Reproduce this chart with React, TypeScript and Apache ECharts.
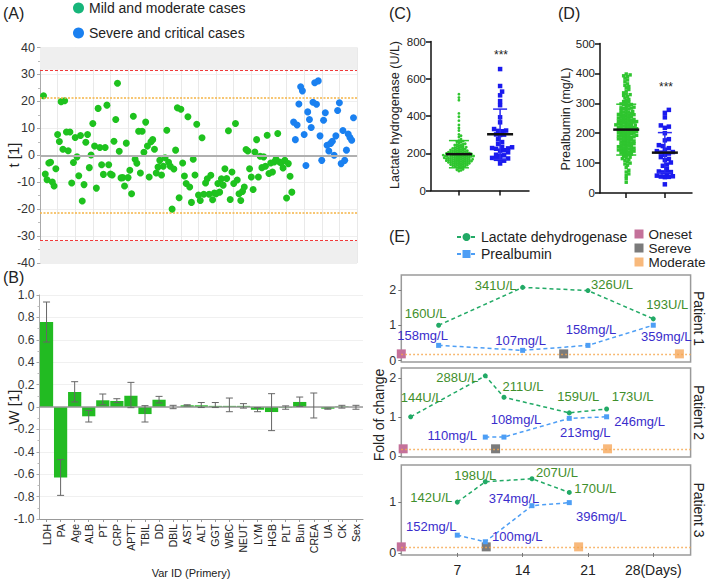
import React, { useEffect, useRef } from 'react';
import * as echarts from 'echarts';

const FONT = '"Liberation Sans", Arial, Helvetica, sans-serif';

// ---------------- (A) OPLS-DA scores t[1] ----------------
const tMild = [
  22.1, -7, -9.1, -2.9, -2.6, -9.9, -11.4, -5.0, 7.7, 5.1, 19.9, 2.2, 20.2, 8.6, 1.7, 8.6, -10.3, -2.7, 6.6, -0.6,
  -7.6, 7.3, -17, -10.9, 4.8, 7.7, -4.6, 0.1, 11.8, 3.4, -12.2, 17.4, 2.9, -3.5, -7.1, 2.9, 18.6, -3.5, -7, -7.3,
  5.2, 13.3, 26.7, 1.5, -8.4,
  -8.3, -11.4, 4.5, -8.3, -5.6, -14.3, 14.5, -1.5, -3.0, 8.9, -6.6, 8.9, 1.1, 12.3, 3.4, -8.1, 5.0, 5.8, 2.2, -6.6,
  -4.4, -1.9, -7.3, -4.1, -0.9, 9.3, -2.6, -4.1, -20.0, -5.1, 1.9, 17.6, -15.8, 17.1, -2.9, -7.7, -10.5, 14.3, -11.8,
  -17.5, -1.5, -7.3, 11.5,
  -14.8, -16.8, 6.5, -14.5, -10.3, -8.7, -14.5, -7.4, -16.5, -14.0, -14.3, -10.5, -13.7, -8.7, -11.1, -5.0, -8.6, 9.1,
  -16.4, -6.2, -10.5, 11.8, -9.2, -14.3, -16.8, -13.4, -11.8, 2.1, 1.6, -5.0, -8.1, -12.7, 1.2, 5.8, -8.1, -0.4, -4.6,
  -0.6, -4.1, 7.4, -6.8, -2.9, -6.2, -2.5,
  -1.5, 8.1, -2.5, -2.9, -4.7, -1.9, -15.9, -3.1, -7.8, -13.7,
];
const tSevere = [
  12.3, 5.8, 11.2, 19, 25.4, 23.9, 7.7, -3.8, 16.1, 13.3, 10.3, 19.7, 26.9, 18.9, 27.6, 7.2, -1.9, 13, 15.8, 3.7,
  1.6, 4.4, 5.2, 0, 7.2, 16.6, 19.5, -3.1, 9.2, -1.9, 1.9, 7.9, 6.6, 5.6, 13.9,
];
const tCrit95 = 21.2;
const tCrit99 = 31.7;

// ---------------- (B) loadings W[1] ----------------
const wVars = ['LDH', 'PA', 'Age', 'ALB', 'PT', 'CRP', 'APTT', 'TBIL', 'DD', 'DBIL', 'AST', 'ALT', 'GGT', 'WBC', 'NEUT', 'LYM', 'HGB', 'PLT', 'Bun', 'CREA', 'UA', 'CK', 'Sex'];
const wValues = [0.76, -0.63, 0.134, -0.083, 0.06, 0.054, 0.1, -0.063, 0.065, 0.0, 0.015, 0.015, 0.01, 0.01, 0.01, -0.024, -0.045, -0.005, 0.045, 0.0, -0.015, 0.005, 0.0];
const wLow = [0.58, -0.789, 0.045, -0.134, 0.02, 0.039, -0.006, -0.134, 0.036, -0.015, 0.01, -0.005, -0.005, -0.042, -0.01, -0.042, -0.211, -0.02, 0.006, -0.098, -0.02, -0.01, -0.02];
const wHigh = [0.9375, -0.47, 0.226, -0.03, 0.116, 0.074, 0.22, 0.012, 0.095, 0.015, 0.02, 0.04, 0.04, 0.08, 0.03, -0.006, 0.119, 0.01, 0.089, 0.125, -0.01, 0.015, 0.015];

// ---------------- (C) LDH (U/L) ----------------
const ldhMild = [
  168, 214, 152, 187, 241, 133, 176, 205, 158, 229, 191, 145, 262, 173, 198, 121, 184, 236, 164, 150,
  517, 209, 179, 142, 256, 188, 167, 223, 196, 138, 171, 247, 160, 202, 185, 127, 218, 155, 194, 268,
  175, 146, 232, 181, 499, 163, 210, 139, 199, 251, 170, 157, 226, 183, 114, 192, 244, 166, 207, 148,
  414, 178, 221, 136, 195, 259, 161, 186, 130, 212, 174, 153, 233, 189, 108, 203, 169, 143, 276, 182,
  396, 159, 216, 131, 197, 238, 172, 149, 190, 225, 156, 206, 124, 180, 265, 165, 141, 200, 230, 177,
  485, 151, 213, 118, 193, 249, 162, 186, 134, 219, 171, 147, 287, 201, 104, 183, 227, 158, 196, 322,
  375, 144, 208, 129, 190, 243, 168, 154, 301, 217, 176, 137, 352, 199, 111, 185, 336, 160, 204, 294,
];
const ldhSevere = [652, 561, 531, 511, 480, 458, 393, 366, 330, 322, 320, 318, 301, 300, 298, 275, 260, 250, 234, 232,
  228, 226, 224, 216, 214, 205, 192, 189, 187, 175, 172, 170, 166, 160, 145];
const ldhMean = [195, 302];
const ldhSD = [73, 135];

// ---------------- (D) Prealbumin (mg/L) ----------------
const paMild = [
  212, 145, 268, 188, 301, 97, 236, 174, 329, 158, 251, 203, 120, 284, 196, 372, 139, 227, 262, 181,
  64, 245, 310, 167, 219, 133, 290, 205, 352, 151, 238, 186, 112, 273, 199, 395, 160, 231, 256, 176,
  85, 248, 318, 142, 214, 126, 295, 209, 341, 170, 240, 193, 104, 279, 222, 384, 148, 229, 265, 183,
  48, 252, 306, 163, 217, 136, 287, 201, 360, 155, 243, 190, 117, 270, 207, 398, 130, 234, 259, 178,
  76, 246, 322, 144, 211, 123, 298, 215, 335, 166, 237, 195, 93, 282, 224, 378, 152, 226, 263, 185,
  36, 255, 313, 169, 220, 140, 292, 204, 346, 157, 241, 191, 109, 276, 198, 389, 137, 232, 258, 173,
  70, 249, 326, 147, 216, 128, 285, 208, 365, 161, 239, 187, 100, 271, 221, 356, 150, 228, 266, 180,
  58, 244, 304, 165, 213, 134, 296, 200, 331, 154, 235, 192, 115, 281, 206, 392, 143, 225, 261, 177,
];
const paSevere = [278, 268, 253, 226, 222, 218, 200, 180, 176, 160, 157, 150, 145, 140, 137, 135, 132, 128, 120, 114,
  110, 102, 95, 91, 80, 72, 70, 69, 66, 58, 56, 55, 54, 53, 29];
const paMean = [212, 135];
const paSD = [85, 67];

// ---------------- (E) follow-up of three patients ----------------
const patients = ['Patient 1', 'Patient 2', 'Patient 3'];
const ldhDays = [[5, 14, 21, 28], [2, 10, 12, 19, 23], [7, 10, 15, 19]];
const ldhFold = [[1.0, 2.07, 1.98, 1.18], [1.0, 2.05, 1.5, 1.1, 1.2], [1.0, 1.4, 1.46, 1.19]];
const ldhText = [['160U/L', '341U/L', '326U/L', '193U/L'], ['144U/L', '288U/L', '211U/L', '159U/L', '173U/L'], ['142U/L', '198U/L', '207U/L', '170U/L']];
const paDays = [[5, 14, 21, 28], [10, 12, 19, 23], [7, 10, 15, 19]];
const paFold = [[0.43, 0.29, 0.43, 1.0], [0.48, 0.48, 0.96, 1.0], [0.35, 0.22, 0.93, 0.99]];
const paText = [['158mg/L', '107mg/L', '158mg/L', '359mg/L'], ['110mg/L', '108mg/L', '213mg/L', '246mg/L'], ['152mg/L', '100mg/L', '374mg/L', '396mg/L']];
const onsetDay = [1.0, 1.2, 1.0];
const severeDay = [18.4, 11.1, 10.1];
const moderateDay = [30.8, 23.1, 20.0];
const eventLevel = [0.19, 0.18, 0.12];
const dayTicks = [7, 14, 21, 28];
const foldTicks = [[0, 1, 2], [0, 1, 2], [0, 1]];

// ---------------- layout (not data) ----------------
const ldhLabelOffset = [
  [[-13, -12], [-27, -2], [24, -6], [14, -14]],
  [[11, -19], [-28, 2], [19, -11], [9, -16], [26, -12]],
  [[-26, -5], [-10, -6], [25, -6], [26, -4]],
];
const paLabelOffset = [
  [[-16, -10], [-2, -10], [3, -16], [13, 11]],
  [[-33, -2], [12, -18], [16, 14], [33, 5]],
  [[-26, -9], [32, -5], [-18, -7], [32, 14]],
];
const eGrids = [
  { top: 275, height: 87, min: -0.04, max: 2.42 },
  { top: 368, height: 89, min: -0.03, max: 2.25 },
  { top: 465, height: 90, min: -0.04, max: 1.73 },
];
const groupPos = [0.285, 0.705];

const C_GREEN = '#2fc52f';
const C_BLUE = '#1a1aee';

function swarm(values: number[], center: number, yPx: number, xPx: number, d: number): number[][] {
  const sorted = values.slice().sort((a, b) => a - b);
  const placed: Array<[number, number]> = [];
  return sorted.map((v) => {
    const y = v * yPx;
    let x = 0;
    for (let k = 0; k < 400; k++) {
      const step = k === 0 ? 0 : Math.ceil(k / 2) * (k % 2 === 1 ? 1 : -1);
      x = step * d * 0.5;
      let ok = true;
      for (const p of placed) {
        const dx = p[0] - x;
        const dy = p[1] - y;
        if (dx * dx + dy * dy < d * d * 0.95) { ok = false; break; }
      }
      if (ok) break;
    }
    placed.push([x, y]);
    return [center + x / xPx, v];
  });
}

function meanSdSeries(name: string, gi: number, means: number[], sds: number[]) {
  return {
    type: 'custom',
    name,
    xAxisIndex: gi,
    yAxisIndex: gi,
    z: 10,
    silent: true,
    data: means.map((m, i) => [groupPos[i], m, sds[i], i]),
    renderItem: (params: any, api: any) => {
      const cx = api.value(0);
      const m = api.value(1);
      const sd = api.value(2);
      const idx = api.value(3);
      const pm = api.coord([cx, m]);
      const pt = api.coord([cx, m + sd]);
      const pb = api.coord([cx, m - sd]);
      const col = idx === 0 ? C_GREEN : '#2a2af0';
      const cap = idx === 0 ? 10 : 7;
      const st = { stroke: col, lineWidth: 1.5 };
      return {
        type: 'group',
        children: [
          { type: 'line', shape: { x1: pt[0], y1: pt[1], x2: pb[0], y2: pb[1] }, style: st },
          { type: 'line', shape: { x1: pt[0] - cap, y1: pt[1], x2: pt[0] + cap, y2: pt[1] }, style: st },
          { type: 'line', shape: { x1: pb[0] - cap, y1: pb[1], x2: pb[0] + cap, y2: pb[1] }, style: st },
          { type: 'line', shape: { x1: pm[0] - 13, y1: pm[1], x2: pm[0] + 13, y2: pm[1] }, style: { stroke: '#111', lineWidth: 2.5 } },
        ],
      };
    },
  };
}

function text(t: string, x: number, y: number, size: number, opts: any = {}) {
  return {
    type: 'text',
    x,
    y,
    rotation: opts.rotation || 0,
    silent: true,
    style: {
      text: t,
      fill: opts.color || '#222',
      font: `${opts.weight || 'normal'} ${size}px ${FONT}`,
      textAlign: opts.align || 'center',
      align: opts.align || 'center',
      textVerticalAlign: 'middle',
      verticalAlign: 'middle',
    },
  };
}

function buildOption() {
  const grids: any[] = [
    { left: 40, top: 47.5, width: 317, height: 215.5 },
    { left: 39.5, top: 295, width: 323.5, height: 224 },
    { left: 431, top: 41.5, width: 98, height: 149 },
    { left: 600, top: 43.5, width: 92, height: 149.5 },
    ...eGrids.map((g) => ({ left: 401.3, top: g.top, width: 289.3, height: g.height, show: true, borderColor: '#9a9a9a', borderWidth: 1.5, backgroundColor: 'transparent' })),
  ].map((g) => ({ ...g, outerBoundsMode: 'none', containLabel: false }));

  const axisBlack = { show: true, lineStyle: { color: '#111', width: 1.5 } };

  const xAxis: any[] = [
    { type: 'value', gridIndex: 0, min: 0, max: 180, interval: 10, axisLine: { show: false }, axisTick: { show: false }, axisLabel: { show: false }, splitLine: { show: true, lineStyle: { color: '#e9e9e9', width: 1 } } },
    {
      type: 'category', gridIndex: 1, data: wVars, position: 'bottom',
      axisLine: { show: true, onZero: false, lineStyle: { color: '#999' } },
      axisTick: { show: true, alignWithLabel: true, length: 3, lineStyle: { color: '#999' } },
      axisLabel: { rotate: 90, interval: 0, fontSize: 10.5, color: '#222', margin: 5, fontFamily: FONT },
      splitLine: { show: false },
    },
    { type: 'value', gridIndex: 2, min: 0, max: 1, axisLine: axisBlack, axisTick: { show: true, customValues: groupPos, length: 5, lineStyle: { color: '#111', width: 1.5 } }, axisLabel: { show: false, customValues: groupPos }, splitLine: { show: false } },
    { type: 'value', gridIndex: 3, min: 0, max: 1, axisLine: axisBlack, axisTick: { show: true, customValues: groupPos, length: 5, lineStyle: { color: '#111', width: 1.5 } }, axisLabel: { show: false, customValues: groupPos }, splitLine: { show: false } },
    ...eGrids.map((g, p) => ({
      type: 'value', gridIndex: 4 + p, min: 1, max: 32,
      axisLine: { show: false },
      axisTick: { show: p === 2, customValues: dayTicks, length: 4, lineStyle: { color: '#777' } },
      axisLabel: { show: p === 2, customValues: dayTicks, fontSize: 14, color: '#222', margin: 8, fontFamily: FONT, formatter: (v: number) => (v === 28 ? '28(Days)' : String(v)) },
      splitLine: { show: false },
    })),
  ];

  const yAxis: any[] = [
    {
      type: 'value', gridIndex: 0, min: -40, max: 40, interval: 10,
      axisLine: { show: true, lineStyle: { color: '#aaa' } },
      axisTick: { show: true, length: 3, lineStyle: { color: '#aaa' } },
      minorTick: { show: true, splitNumber: 2, length: 2, lineStyle: { color: '#bbb' } },
      axisLabel: { fontSize: 12.5, color: '#333', margin: 5, fontFamily: FONT },
      splitLine: { show: true, lineStyle: { color: '#efefef' } },
    },
    {
      type: 'value', gridIndex: 1, min: -1, max: 1, interval: 0.2,
      axisLine: { show: true, lineStyle: { color: '#aaa' } },
      axisTick: { show: true, length: 3, lineStyle: { color: '#aaa' } },
      minorTick: { show: true, splitNumber: 2, length: 2, lineStyle: { color: '#bbb' } },
      axisLabel: { fontSize: 12, color: '#333', margin: 5, fontFamily: FONT, formatter: (v: number) => (Math.abs(v) < 1e-9 ? '0' : v.toFixed(1)) },
      splitLine: { show: true, lineStyle: { color: '#f0f0f0' } },
    },
    { type: 'value', gridIndex: 2, min: 0, max: 800, interval: 200, axisLine: axisBlack, axisTick: { show: true, length: 5, lineStyle: { color: '#111', width: 1.5 } }, axisLabel: { fontSize: 11.5, color: '#222', margin: 5, fontFamily: FONT }, splitLine: { show: false } },
    { type: 'value', gridIndex: 3, min: 0, max: 500, interval: 100, axisLine: axisBlack, axisTick: { show: true, length: 5, lineStyle: { color: '#111', width: 1.5 } }, axisLabel: { fontSize: 11.5, color: '#222', margin: 5, fontFamily: FONT }, splitLine: { show: false } },
    ...eGrids.map((g, p) => ({
      type: 'value', gridIndex: 4 + p, min: g.min, max: g.max,
      axisLine: { show: false },
      axisTick: { show: true, customValues: foldTicks[p], length: 3, lineStyle: { color: '#777' } },
      axisLabel: { customValues: foldTicks[p], fontSize: 12.5, color: '#333', margin: 5, fontFamily: FONT },
      splitLine: { show: false },
    })),
  ];

  const series: any[] = [];

  // (A)
  series.push({
    type: 'scatter', name: 'Mild and moderate cases', xAxisIndex: 0, yAxisIndex: 0,
    data: tMild.map((t, i) => [i + 2, t]), symbolSize: 7, itemStyle: { color: '#1ec21e', opacity: 1 }, z: 3,
    markArea: {
      silent: true, itemStyle: { color: '#efefef' },
      data: [[{ yAxis: tCrit99 }, { yAxis: 40 }], [{ yAxis: -40 }, { yAxis: -tCrit99 }]],
    },
    markLine: {
      silent: true, symbol: 'none', label: { show: false },
      data: [
        { yAxis: tCrit99, lineStyle: { color: '#f03a3a', type: [3, 2], width: 1 } },
        { yAxis: -tCrit99, lineStyle: { color: '#f03a3a', type: [3, 2], width: 1 } },
        { yAxis: tCrit95, lineStyle: { color: '#f5b445', type: [2, 1.5], width: 1.5 } },
        { yAxis: -tCrit95, lineStyle: { color: '#f5b445', type: [2, 1.5], width: 1.5 } },
        { yAxis: 0, lineStyle: { color: '#b0b0b0', type: 'solid', width: 2 } },
      ],
    },
  });
  series.push({
    type: 'scatter', name: 'Severe and critical cases', xAxisIndex: 0, yAxisIndex: 0,
    data: tSevere.map((t, j) => [tMild.length + j + 2, t]), symbolSize: 7, itemStyle: { color: '#1a80f0', opacity: 1 }, z: 3,
  });

  // (B)
  series.push({
    type: 'bar', name: 'W[1]', xAxisIndex: 1, yAxisIndex: 1, data: wValues, barWidth: '94%',
    itemStyle: { color: '#22bb22' },
    markLine: { silent: true, symbol: 'none', label: { show: false }, data: [{ yAxis: 0, lineStyle: { color: '#999', type: 'solid', width: 1.5 } }] },
  });
  series.push({
    type: 'custom', name: 'W[1] CI', xAxisIndex: 1, yAxisIndex: 1, z: 5, silent: true,
    data: wVars.map((_, i) => [i, wLow[i], wHigh[i]]),
    encode: { x: 0, y: [1, 2] },
    renderItem: (params: any, api: any) => {
      const x = api.value(0);
      const lo = api.coord([x, api.value(1)]);
      const hi = api.coord([x, api.value(2)]);
      const st = { stroke: '#666', lineWidth: 1 };
      return {
        type: 'group',
        children: [
          { type: 'line', shape: { x1: lo[0], y1: lo[1], x2: hi[0], y2: hi[1] }, style: st },
          { type: 'line', shape: { x1: lo[0] - 3.5, y1: lo[1], x2: lo[0] + 3.5, y2: lo[1] }, style: st },
          { type: 'line', shape: { x1: hi[0] - 3.5, y1: hi[1], x2: hi[0] + 3.5, y2: hi[1] }, style: st },
        ],
      };
    },
  });

  // (C)
  series.push({ type: 'scatter', name: 'LDH mild', xAxisIndex: 2, yAxisIndex: 2, symbol: 'circle', symbolSize: 2.8, itemStyle: { color: C_GREEN, opacity: 1 }, data: swarm(ldhMild, groupPos[0], 149 / 800, 98, 2.1) });
  series.push({ type: 'scatter', name: 'LDH severe', xAxisIndex: 2, yAxisIndex: 2, symbol: 'rect', symbolSize: 4.5, itemStyle: { color: C_BLUE, opacity: 1 }, data: swarm(ldhSevere, groupPos[1], 149 / 800, 98, 4) });
  series.push(meanSdSeries('LDH mean', 2, ldhMean, ldhSD));

  // (D)
  series.push({ type: 'scatter', name: 'PA mild', xAxisIndex: 3, yAxisIndex: 3, symbol: 'rect', symbolSize: 3.4, itemStyle: { color: C_GREEN, opacity: 1 }, data: swarm(paMild, groupPos[0], 149.5 / 500, 92, 2.6) });
  series.push({ type: 'scatter', name: 'PA severe', xAxisIndex: 3, yAxisIndex: 3, symbol: 'rect', symbolSize: 4.5, itemStyle: { color: C_BLUE, opacity: 1 }, data: swarm(paSevere, groupPos[1], 149.5 / 500, 92, 4) });
  series.push(meanSdSeries('PA mean', 3, paMean, paSD));

  // (E)
  patients.forEach((_, p) => {
    const gi = 4 + p;
    series.push({
      type: 'line', name: 'Lactate dehydrogenase', xAxisIndex: gi, yAxisIndex: gi,
      data: ldhDays[p].map((d, i) => ({ value: [d, ldhFold[p][i]], label: { offset: ldhLabelOffset[p][i] } })),
      symbol: 'circle', symbolSize: 5,
      lineStyle: { color: '#22aa66', type: [4, 3], width: 1.5 },
      itemStyle: { color: '#22aa66' },
      label: { show: true, position: 'inside', fontSize: 13, color: '#3f8f2c', fontFamily: FONT, formatter: (prm: any) => ldhText[p][prm.dataIndex] },
      z: 4,
    });
    series.push({
      type: 'line', name: 'Prealbumin', xAxisIndex: gi, yAxisIndex: gi,
      data: paDays[p].map((d, i) => ({ value: [d, paFold[p][i]], label: { offset: paLabelOffset[p][i] } })),
      symbol: 'rect', symbolSize: 5,
      lineStyle: { color: '#4d9ef5', type: [4, 3], width: 1.5 },
      itemStyle: { color: '#4d9ef5' },
      label: { show: true, position: 'inside', fontSize: 13, color: '#3a2dcc', fontFamily: FONT, formatter: (prm: any) => paText[p][prm.dataIndex] },
      z: 4,
    });
    series.push({
      type: 'scatter', name: 'Oneset', xAxisIndex: gi, yAxisIndex: gi, symbol: 'rect', symbolSize: 9,
      itemStyle: { color: '#c4719a', opacity: 1 }, data: [[onsetDay[p], eventLevel[p]]], z: 3,
      markLine: { silent: true, symbol: 'none', label: { show: false }, data: [{ yAxis: eventLevel[p], lineStyle: { color: '#f5a64a', type: [1.5, 2.5], width: 1.3 } }] },
    });
    series.push({ type: 'scatter', name: 'Sereve', xAxisIndex: gi, yAxisIndex: gi, symbol: 'rect', symbolSize: 9, itemStyle: { color: '#7b7b7b', opacity: 1 }, data: [[severeDay[p], eventLevel[p]]], z: 3 });
    series.push({ type: 'scatter', name: 'Moderate', xAxisIndex: gi, yAxisIndex: gi, symbol: 'rect', symbolSize: 9, itemStyle: { color: '#f8b97c', opacity: 1 }, data: [[moderateDay[p], eventLevel[p]]], z: 3 });
  });

  const legend: any[] = [
    {
      orient: 'vertical', left: 73, top: 1, padding: 0, itemWidth: 11, itemHeight: 11, itemGap: 11, icon: 'circle', selectedMode: false,
      textStyle: { fontSize: 14, color: '#222', fontFamily: FONT },
      data: [{ name: 'Mild and moderate cases', itemStyle: { color: '#17b57a' } }, { name: 'Severe and critical cases' }],
    },
    {
      orient: 'vertical', left: 456, top: 230, padding: 0, itemWidth: 19, itemHeight: 10, itemGap: 3, selectedMode: false,
      textStyle: { fontSize: 14, color: '#222', fontFamily: FONT },
      data: ['Lactate dehydrogenase', 'Prealbumin'],
    },
    {
      orient: 'vertical', left: 634.5, top: 227, padding: 0, itemWidth: 9, itemHeight: 9, itemGap: 0, icon: 'rect', selectedMode: false,
      textStyle: { fontSize: 13.5, color: '#222', fontFamily: FONT },
      data: ['Oneset', 'Sereve', 'Moderate'],
    },
  ];

  const graphic: any[] = [
    text('(A)', 3, 13, 16, { align: 'left' }),
    text('(B)', 3, 277, 16, { align: 'left' }),
    text('(C)', 389, 13, 16, { align: 'left' }),
    text('(D)', 558, 13, 16, { align: 'left' }),
    text('(E)', 389, 236, 16, { align: 'left' }),
    text('t [1]', 13, 155, 15, { rotation: Math.PI / 2 }),
    text('W [1]', 13, 407, 15, { rotation: Math.PI / 2 }),
    text('Var ID (Primery)', 191, 573, 11),
    text('Lactate hydrogenase (U/L)', 395, 115, 12.5, { rotation: Math.PI / 2 }),
    text('Prealbumin (mg/L)', 566, 119, 12.5, { rotation: Math.PI / 2 }),
    text('***', 501, 55, 12),
    text('***', 666, 87, 12),
    text('Fold of change', 379, 415, 14, { rotation: Math.PI / 2 }),
    ...patients.map((name, p) => text(name, 699, eGrids[p].top + eGrids[p].height / 2, 14, { rotation: -Math.PI / 2 })),
  ];

  return {
    animation: false,
    backgroundColor: '#ffffff',
    textStyle: { fontFamily: FONT },
    grid: grids,
    xAxis,
    yAxis,
    legend,
    series,
    graphic,
  };
}

export default function App() {
  const ref = useRef<HTMLDivElement>(null);
  useEffect(() => {
    if (!ref.current) return undefined;
    const chart = echarts.init(ref.current, null, { renderer: 'svg' });
    chart.setOption(buildOption() as any);
    return () => chart.dispose();
  }, []);
  return <div ref={ref} style={{ position: 'fixed', left: 0, top: 0, width: 709, height: 579, background: '#fff' }} />;
}
